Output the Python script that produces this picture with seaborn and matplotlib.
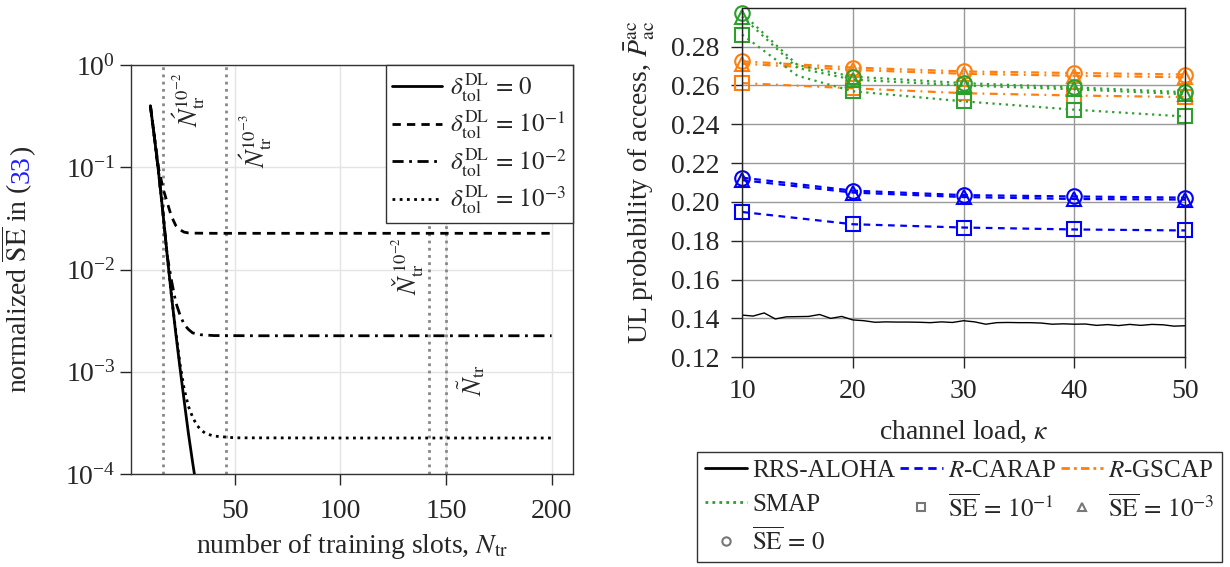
import pandas as pd
import seaborn as sns
import matplotlib.pyplot as plt
from matplotlib.lines import Line2D
from matplotlib.ticker import LogLocator, NullLocator, FixedLocator

# ---- left panel: normalized SE vs number of training slots ----
n_solid = [10, 12, 14, 16, 18, 20, 22, 24, 26, 28, 30, 32]
se_solid = [0.40, 0.19, 0.085, 0.035, 0.0135, 0.0055, 0.0024, 0.0011, 0.00052, 0.00025, 0.00013, 0.00007]

n_tol1 = [10, 12, 14, 16, 18, 20, 22, 24, 26, 28, 30, 40, 60, 100, 150, 200]
se_tol1 = [0.40, 0.19, 0.095, 0.062, 0.045, 0.033, 0.027, 0.0245, 0.0232, 0.0228, 0.0227,
           0.0226, 0.0226, 0.0226, 0.0226, 0.0226]

n_tol2 = [10, 12, 14, 16, 18, 20, 22, 24, 26, 28, 30, 34, 40, 60, 100, 150, 200]
se_tol2 = [0.40, 0.19, 0.085, 0.035, 0.0135, 0.0078, 0.0048, 0.0036, 0.0029, 0.0026, 0.0024,
           0.0023, 0.00226, 0.00225, 0.00225, 0.00225, 0.00225]

n_tol3 = [10, 12, 14, 16, 18, 20, 22, 24, 26, 28, 30, 32, 34, 36, 40, 50, 100, 150, 200]
se_tol3 = [0.40, 0.19, 0.085, 0.035, 0.0135, 0.0055, 0.0025, 0.0012, 0.00068, 0.00046, 0.00036,
           0.00030, 0.00027, 0.00025, 0.000235, 0.000226, 0.000225, 0.000225, 0.000225]

vlines = [16, 46, 142, 150]
vline_labels = [r"$\acute{N}_{\mathrm{tr}}^{10^{-2}}$", r"$\acute{N}_{\mathrm{tr}}^{10^{-3}}$",
                r"$\mathit{Ň}_{\mathrm{tr}}^{10^{-2}}$", r"$\tilde{N}_{\mathrm{tr}}$"]
vline_label_pos = [(28, 10**-0.34), (60, 10**-0.74), (132, 10**-1.97), (162, 10**-3.08)]

tol_labels = [r"$\delta_{\mathrm{tol}}^{\mathrm{DL}}\,=\,0$", r"$\delta_{\mathrm{tol}}^{\mathrm{DL}}\,=\,10^{-1}$",
              r"$\delta_{\mathrm{tol}}^{\mathrm{DL}}\,=\,10^{-2}$", r"$\delta_{\mathrm{tol}}^{\mathrm{DL}}\,=\,10^{-3}$"]

# ---- right panel: UL probability of access vs channel load ----
kappa = [10, 20, 30, 40, 50]
aloha_k = list(range(10, 51))
aloha = [0.1417, 0.1412, 0.1428, 0.1397, 0.1408, 0.1409, 0.1410, 0.1420, 0.1400, 0.1410,
         0.1392, 0.1388, 0.1380, 0.1382, 0.1381, 0.1381, 0.1380, 0.1378, 0.1382, 0.1379,
         0.1388, 0.1382, 0.1370, 0.1378, 0.1379, 0.1378, 0.1378, 0.1376, 0.1370, 0.1372,
         0.1370, 0.1371, 0.1364, 0.1368, 0.1363, 0.1369, 0.1364, 0.1369, 0.1367, 0.1360, 0.1362]

carap = {"se0": [0.2125, 0.2058, 0.2035, 0.2028, 0.2022],
         "se3": [0.2112, 0.2048, 0.2025, 0.2015, 0.2012],
         "se1": [0.1948, 0.1885, 0.1868, 0.1858, 0.1853]}
gscap = {"se0": [0.2724, 0.2692, 0.2672, 0.2664, 0.2656],
         "se3": [0.2712, 0.2680, 0.2660, 0.2650, 0.2642],
         "se1": [0.2612, 0.2585, 0.2560, 0.2548, 0.2540]}
# SMAP curves also have a point at kappa=15 (no marker there)
smap_k = [10, 15, 20, 30, 40, 50]
smap = {"se0": [0.2972, 0.2705, 0.2645, 0.2612, 0.2590, 0.2565],
        "se3": [0.2955, 0.2690, 0.2630, 0.2600, 0.2580, 0.2555],
        "se1": [0.2862, 0.2650, 0.2570, 0.2518, 0.2475, 0.2440]}

markers = {"se0": "o", "se3": "^", "se1": "s"}
BLUE, ORANGE, GREEN = "#0000ff", "#ff7f0e", "#2ca02c"

sns.set_style("ticks")
plt.rcParams["font.family"] = ["Liberation Serif", "DejaVu Serif"]
plt.rcParams["mathtext.fontset"] = "stix"
plt.rcParams["font.size"] = 20
plt.rcParams["axes.linewidth"] = 1.0

fig = plt.figure(figsize=(12.3, 5.67), dpi=100)
ax1 = fig.add_axes([0.1063, 0.164, 0.3593, 0.7213])
ax2 = fig.add_axes([0.6033, 0.370, 0.3602, 0.6163])

# left
curves = [(n_solid, se_solid, "-"), (n_tol1, se_tol1, (0, (3, 2.2))),
          (n_tol2, se_tol2, (0, (4, 2, 1, 2))), (n_tol3, se_tol3, (0, (1, 1.6)))]
for xs, ys, ls in curves:
    df = pd.DataFrame({"N": xs, "SE": ys})
    sns.lineplot(data=df, x="N", y="SE", ax=ax1, color="black", lw=2, linestyle=ls)

for v in vlines:
    ax1.axvline(v, color="#888888", lw=2, linestyle=(0, (1, 1.6)), zorder=1)
for lab, (xp, yp) in zip(vline_labels, vline_label_pos):
    ax1.text(xp, yp, lab, rotation=90, ha="center", va="center", fontsize=19)

ax1.set_yscale("log")
ax1.set_ylim(1e-4, 1)
ax1.set_xlim(0.7, 210)
ax1.xaxis.set_major_locator(FixedLocator([50, 100, 150, 200]))
ax1.yaxis.set_major_locator(LogLocator(base=10, numticks=10))
ax1.yaxis.set_minor_locator(NullLocator())
ax1.grid(True, color="#e4e4e4", lw=1)
ax1.set_axisbelow(True)
ax1.tick_params(direction="out", length=8, width=1, labelsize=20)
ax1.tick_params(axis="x", pad=10)
ax1.tick_params(axis="y", pad=3)
ax1.set_xlabel(r"number of training slots, $N_{\mathrm{tr}}$", fontsize=20, labelpad=6)
ax1.set_ylabel("")
for s in ax1.spines.values():
    s.set_color("#333333")

h1 = [Line2D([], [], color="black", lw=2, linestyle=ls) for _, _, ls in curves]
ax1.legend(h1, tol_labels, loc="upper right", borderaxespad=0, fancybox=False,
           edgecolor="#333333", framealpha=1, fontsize=18, handlelength=2.0,
           handletextpad=0.3, labelspacing=0.2, borderpad=0.25)

# y label with blue equation number
t1 = fig.text(0.0285, 0.30, r"normalized $\overline{\mathrm{SE}}$ in (", rotation=90,
              ha="right", va="bottom", fontsize=20)
t2 = ax1.annotate("33", xy=(1, 1), xycoords=t1, rotation=90, ha="right", va="bottom",
                  color="#1a1aff", fontsize=20)
t3 = ax1.annotate(")", xy=(1, 1), xycoords=t2, rotation=90, ha="right", va="bottom", fontsize=20)

# right
sns.lineplot(x=aloha_k, y=aloha, ax=ax2, color="black", lw=1.0)
for data, xs, col, ls in [(carap, kappa, BLUE, (0, (3, 2.5))),
                          (gscap, kappa, ORANGE, (0, (3.5, 2.5, 0.8, 2.5))),
                          (smap, smap_k, GREEN, (0, (1, 2)))]:
    mk_idx = [i for i, k in enumerate(xs) if k in kappa]
    for key in ["se1", "se3", "se0"]:
        df = pd.DataFrame({"kappa": xs, "p": data[key]})
        sns.lineplot(data=df, x="kappa", y="p", ax=ax2, color=col, lw=1.6, linestyle=ls,
                     marker=markers[key], markevery=mk_idx, markersize=10.5,
                     markerfacecolor="none", markeredgecolor=col, markeredgewidth=1.5,
                     clip_on=False)

ax2.set_xlim(10, 50)
ax2.set_ylim(0.12, 0.30)
ax2.xaxis.set_major_locator(FixedLocator([10, 20, 30, 40, 50]))
ax2.yaxis.set_major_locator(FixedLocator([0.12, 0.14, 0.16, 0.18, 0.20, 0.22, 0.24, 0.26, 0.28]))
ax2.yaxis.set_major_formatter(plt.FormatStrFormatter("%.2f"))
ax2.grid(True, color="#999999", lw=1)
ax2.set_axisbelow(True)
ax2.tick_params(direction="out", length=8, width=1, labelsize=20)
ax2.tick_params(axis="x", pad=8)
ax2.tick_params(axis="y", pad=8)
ax2.set_xlabel(r"channel load, $\kappa$", fontsize=20, labelpad=10)
ax2.set_ylabel(r"UL probability of access, $\bar{P}_{\mathrm{ac}}^{\mathrm{ac}}$", fontsize=20,
               labelpad=10)
for s in ax2.spines.values():
    s.set_color("#222222")

gray = "#777777"
h_aloha = Line2D([], [], color="black", lw=2)
h_carap = Line2D([], [], color=BLUE, lw=2, linestyle=(0, (3, 2)))
h_gscap = Line2D([], [], color=ORANGE, lw=2, linestyle=(0, (3, 1.5, 1, 1.5)))
h_smap = Line2D([], [], color=GREEN, lw=2, linestyle=(0, (1, 1.5)))
h_sq = Line2D([], [], color=gray, marker="s", ls="none", markersize=6, mfc="none", mew=1.5)
h_tri = Line2D([], [], color=gray, marker="^", ls="none", markersize=6, mfc="none", mew=1.5)
h_circ = Line2D([], [], color=gray, marker="o", ls="none", markersize=6, mfc="none", mew=1.5)
handles = [h_aloha, h_smap, h_circ, h_carap, h_sq, h_gscap, h_tri]
labels = ["RRS-ALOHA", "SMAP", r"$\overline{\mathrm{SE}}\,=\,0$", r"$R$-CARAP",
          r"$\overline{\mathrm{SE}}\,=\,10^{-1}$", r"$R$-GSCAP", r"$\overline{\mathrm{SE}}\,=\,10^{-3}$"]
fig.legend(handles, labels, loc="upper left", bbox_to_anchor=(0.5667, 0.2028), ncol=3,
           fancybox=False, edgecolor="#333333", framealpha=1, fontsize=18, handlelength=1.7,
           handletextpad=0.2, columnspacing=0.2, labelspacing=0.45, borderpad=0.3,
           borderaxespad=0)

# center the composite y label on the left axes
fig.canvas.draw()
r = fig.canvas.get_renderer()
b1 = t1.get_window_extent(r)
b3 = t3.get_window_extent(r)
ab = ax1.get_window_extent(r)
shift = (ab.y0 + ab.y1) / 2 - (b1.y0 + b3.y1) / 2
x0, y0 = t1.get_position()
t1.set_position((x0, y0 + shift / fig.bbox.height))

fig.savefig("out.png", dpi=100)
